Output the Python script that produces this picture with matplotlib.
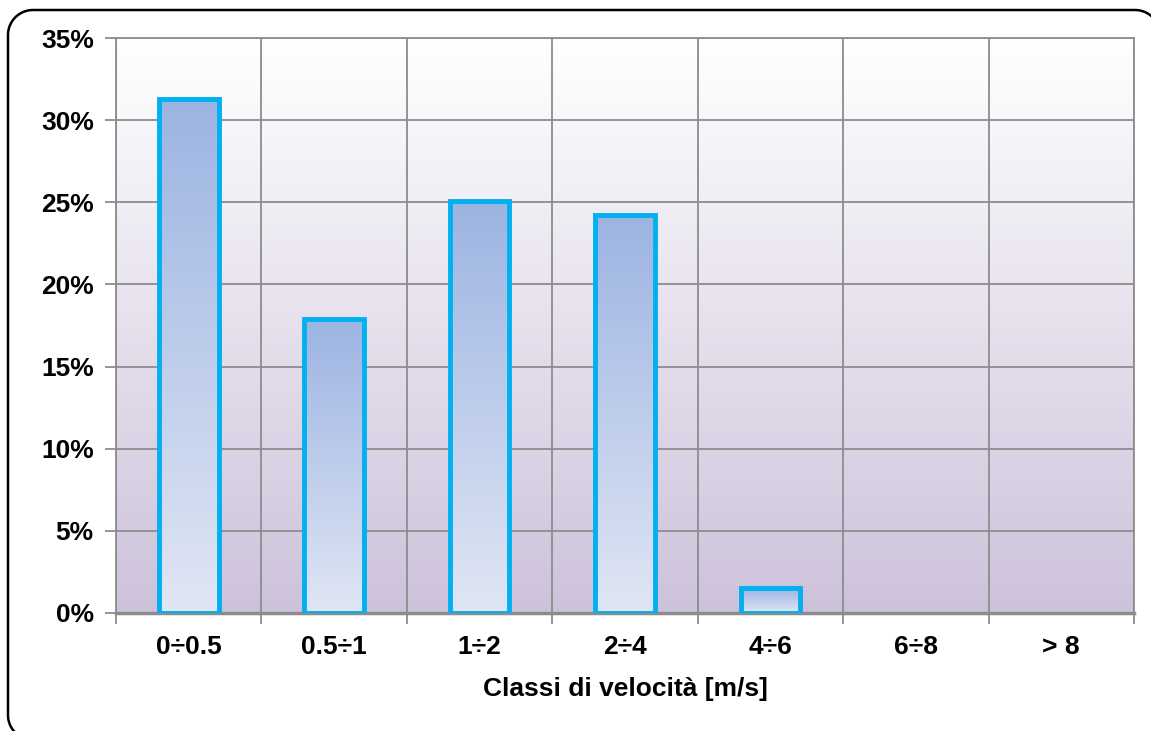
import numpy as np
import matplotlib.pyplot as plt
from matplotlib.lines import Line2D
from matplotlib.transforms import IdentityTransform
from matplotlib.ticker import FuncFormatter, MultipleLocator
from matplotlib.colors import LinearSegmentedColormap

# data
classes = ['0÷0.5', '0.5÷1', '1÷2', '2÷4', '4÷6', '6÷8', '> 8']
freq = [31.3, 17.9, 25.1, 24.2, 1.5, 0.0, 0.0]

plt.rcParams['font.family'] = ['Liberation Sans', 'DejaVu Sans']
plt.rcParams['font.weight'] = 'bold'

W, H = 1151, 731
fig = plt.figure(figsize=(W / 100, H / 100), dpi=100)
ax = fig.add_axes([116 / W, 1 - 613 / H, 1018 / W, 575 / H])

grid_col = '#8c8c8c'
x = np.arange(len(classes))

ax.set_xlim(-0.5, len(classes) - 0.5)
ax.set_ylim(0, 35)

# background gradient (white at top, lavender at bottom)
bg = LinearSegmentedColormap.from_list('bg', ['#cdc2db', '#ffffff'])
grad = np.linspace(0, 1, 256).reshape(-1, 1)
ax.imshow(grad, cmap=bg, aspect='auto', origin='lower',
          extent=[-0.5, len(classes) - 0.5, 0, 35], zorder=0)

# bars: cyan outline, gradient fill clipped to each bar
bars = ax.bar(x, freq, width=0.41, facecolor='none', edgecolor='#00b0f0',
              linewidth=3.5, zorder=3)
bar_cmap = LinearSegmentedColormap.from_list('bar', ['#e0e6f4', '#9cb4e2'])
for b, v in zip(bars, freq):
    if v <= 0:
        b.set_visible(False)
        continue
    x0, w = b.get_x(), b.get_width()
    im = ax.imshow(grad, cmap=bar_cmap, aspect='auto', origin='lower',
                   extent=[x0, x0 + w, 0, v], zorder=2)
    im.set_clip_path(b)

ax.set_xlim(-0.5, len(classes) - 0.5)
ax.set_ylim(0, 35)

ax.yaxis.set_major_locator(MultipleLocator(5))
ax.yaxis.set_major_formatter(FuncFormatter(lambda v, p: f'{v:.0f}%'))
ax.set_xticks(x)
ax.set_xticklabels(classes)
ax.set_xticks(np.arange(-0.5, len(classes)), minor=True)

ax.grid(True, axis='y', which='major', color=grid_col, linewidth=1.3, zorder=1)
ax.grid(True, axis='x', which='minor', color=grid_col, linewidth=1.3, zorder=1)
ax.set_axisbelow(True)

ax.tick_params(axis='x', which='major', length=0, pad=16, labelsize=19)
ax.tick_params(axis='x', which='minor', length=8, width=1.3, color=grid_col)
ax.tick_params(axis='y', which='major', length=8, width=1.3, color=grid_col,
               pad=8, labelsize=19)

for s in ax.spines.values():
    s.set_color(grid_col)
    s.set_linewidth(1.3)
ax.spines['bottom'].set_linewidth(2.5)

ax.set_xlabel('Classi di velocità [m/s]', fontsize=19, fontweight='bold',
              labelpad=13)

# rounded frame (pixel coords), it runs off the right and bottom edges
r = 25
left, top, right, bottom = 8, H - 10, 1160, -9
def arc(cx, cy, a0, a1):
    t = np.radians(np.linspace(a0, a1, 30))
    return cx + r * np.cos(t), cy + r * np.sin(t)
pieces = [arc(right - r, top - r, 0, 90),
          arc(left + r, top - r, 90, 180),
          arc(left + r, bottom + r, 180, 270)]
fx = np.concatenate([p[0] for p in pieces] + [[right]])
fy = np.concatenate([p[1] for p in pieces] + [[bottom]])
fig.add_artist(Line2D(fx, fy, transform=IdentityTransform(), color='black',
                      linewidth=1.8, solid_joinstyle='round'))

fig.savefig('out.png', dpi=100)
